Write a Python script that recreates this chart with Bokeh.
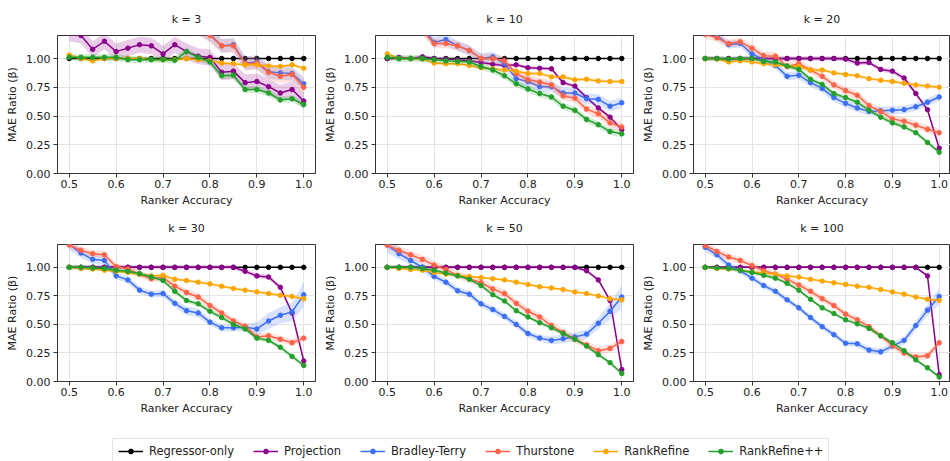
from bokeh.plotting import figure
from bokeh.layouts import column, row
from bokeh.models import Range1d, FixedTicker, NumeralTickFormatter, Legend, LegendItem
from bokeh.embed import file_html
from bokeh.resources import INLINE

FONT = "DejaVu Sans"

# ---------------- data ----------------
acc = [0.5, 0.525, 0.55, 0.575, 0.6, 0.625, 0.65, 0.675, 0.7, 0.725, 0.75,
       0.775, 0.8, 0.825, 0.85, 0.875, 0.9, 0.925, 0.95, 0.975, 1.0]
x_ticks = [0.5, 0.6, 0.7, 0.8, 0.9, 1.0]
y_ticks = [0.0, 0.25, 0.5, 0.75, 1.0]

methods = ["Regressor-only", "Projection", "Bradley-Terry", "Thurstone", "RankRefine", "RankRefine++"]
colors = ["#000000", "#8B008B", "#3b6ff5", "#ff6347", "#ffa500", "#22a02b"]
panel_titles = ["k = 3", "k = 10", "k = 20", "k = 30", "k = 50", "k = 100"]

reg = [1.0, 1.0, 1.0, 1.0, 1.0, 1.0, 1.0, 1.0, 1.0, 1.0, 1.0,
       1.0, 1.0, 1.0, 1.0, 1.0, 1.0, 1.0, 1.0, 1.0, 1.0]

# k = 3
proj3 = [1.22, 1.20, 1.08, 1.15, 1.06, 1.09, 1.12, 1.11, 1.04, 1.12, 1.06, 1.02, 1.01, 0.88, 0.89, 0.79, 0.80, 0.755, 0.70, 0.73, 0.63]
bt3 = [1.52, 1.48, 1.45, 1.46, 1.42, 1.40, 1.38, 1.36, 1.35, 1.33, 1.31, 1.27, 1.21, 1.11, 1.12, 0.96, 0.97, 0.885, 0.875, 0.87, 0.78]
th3 = [1.55, 1.50, 1.46, 1.48, 1.43, 1.41, 1.40, 1.37, 1.36, 1.34, 1.32, 1.26, 1.20, 1.11, 1.11, 0.955, 0.96, 0.88, 0.845, 0.86, 0.75]
rr3 = [1.03, 1.00, 0.98, 1.00, 1.00, 1.00, 1.00, 0.99, 0.99, 0.99, 1.00, 0.99, 0.98, 0.96, 0.955, 0.945, 0.945, 0.935, 0.93, 0.945, 0.915]
rrpp3 = [1.01, 1.01, 1.01, 1.01, 1.01, 0.99, 0.99, 0.99, 0.99, 0.985, 1.06, 1.01, 0.97, 0.85, 0.855, 0.73, 0.73, 0.70, 0.64, 0.65, 0.60]

# k = 10
proj10 = [1.0, 1.01, 1.0, 1.015, 1.0, 0.995, 0.99, 0.98, 0.965, 0.95, 0.94, 0.945, 0.92, 0.915, 0.91, 0.79, 0.76, 0.66, 0.57, 0.49, 0.38]
bt10 = [1.42, 1.38, 1.33, 1.27, 1.14, 1.165, 1.11, 1.07, 1.0, 1.015, 0.955, 0.825, 0.80, 0.755, 0.755, 0.70, 0.70, 0.65, 0.645, 0.585, 0.615]
th10 = [1.36, 1.31, 1.26, 1.24, 1.13, 1.13, 1.11, 1.07, 1.0, 1.0, 0.98, 0.87, 0.815, 0.795, 0.77, 0.675, 0.655, 0.56, 0.52, 0.44, 0.405]
rr10 = [1.04, 1.0, 1.0, 0.995, 0.96, 0.955, 0.955, 0.94, 0.92, 0.91, 0.90, 0.89, 0.87, 0.87, 0.84, 0.84, 0.815, 0.82, 0.805, 0.80, 0.80]
rrpp10 = [1.01, 1.0, 1.0, 1.0, 0.99, 0.98, 0.975, 0.97, 0.93, 0.90, 0.85, 0.78, 0.735, 0.695, 0.665, 0.585, 0.55, 0.47, 0.425, 0.365, 0.345]

# k = 20
proj20 = [1.0, 1.0, 0.995, 1.0, 1.0, 1.0, 1.0, 1.0, 1.0, 1.0, 1.0, 1.0, 0.995, 0.96, 0.965, 0.905, 0.89, 0.83, 0.695, 0.555, 0.22]
bt20 = [1.25, 1.20, 1.12, 1.13, 1.04, 0.99, 0.94, 0.845, 0.855, 0.79, 0.74, 0.66, 0.61, 0.57, 0.54, 0.545, 0.55, 0.555, 0.58, 0.62, 0.665]
th20 = [1.21, 1.18, 1.13, 1.145, 1.09, 1.025, 1.02, 0.93, 0.955, 0.90, 0.845, 0.77, 0.72, 0.68, 0.59, 0.54, 0.475, 0.455, 0.42, 0.385, 0.355]
rr20 = [1.0, 0.995, 0.97, 0.98, 0.97, 0.955, 0.945, 0.935, 0.93, 0.90, 0.90, 0.875, 0.86, 0.85, 0.825, 0.81, 0.80, 0.785, 0.77, 0.76, 0.75]
rrpp20 = [1.0, 1.0, 0.995, 1.0, 1.0, 0.975, 0.97, 0.935, 0.905, 0.82, 0.775, 0.695, 0.66, 0.62, 0.55, 0.49, 0.44, 0.405, 0.355, 0.27, 0.185]

# k = 30
proj30 = [1.0, 1.0, 1.0, 1.0, 1.0, 1.0, 1.0, 1.0, 1.0, 1.0, 1.0, 1.0, 1.0, 1.0, 1.0, 0.965, 0.925, 0.915, 0.825, 0.60, 0.18]
bt30 = [1.2, 1.125, 1.07, 1.06, 0.925, 0.89, 0.80, 0.765, 0.77, 0.685, 0.62, 0.60, 0.52, 0.47, 0.47, 0.475, 0.46, 0.53, 0.58, 0.61, 0.76]
th30 = [1.195, 1.15, 1.12, 1.11, 1.005, 0.985, 0.94, 0.90, 0.91, 0.835, 0.78, 0.74, 0.665, 0.60, 0.53, 0.485, 0.39, 0.40, 0.37, 0.34, 0.38]
rr30 = [1.0, 0.99, 0.985, 0.975, 0.965, 0.955, 0.94, 0.925, 0.93, 0.895, 0.885, 0.87, 0.855, 0.835, 0.815, 0.80, 0.785, 0.77, 0.755, 0.745, 0.725]
rrpp30 = [1.0, 1.0, 0.995, 0.99, 0.975, 0.965, 0.945, 0.915, 0.885, 0.79, 0.71, 0.68, 0.615, 0.56, 0.50, 0.46, 0.38, 0.36, 0.30, 0.22, 0.14]

# k = 50
proj50 = [1.0, 1.0, 1.0, 1.0, 1.0, 1.0, 1.0, 1.0, 1.0, 1.0, 1.0, 1.0, 1.0, 1.0, 1.0, 1.0, 1.0, 0.97, 0.89, 0.71, 0.105]
bt50 = [1.195, 1.12, 1.06, 1.0, 0.92, 0.87, 0.795, 0.765, 0.68, 0.63, 0.57, 0.50, 0.42, 0.38, 0.36, 0.375, 0.39, 0.415, 0.51, 0.615, 0.74]
th50 = [1.195, 1.15, 1.11, 1.07, 1.02, 0.98, 0.93, 0.90, 0.865, 0.81, 0.77, 0.685, 0.615, 0.565, 0.49, 0.43, 0.37, 0.32, 0.27, 0.29, 0.35]
rr50 = [1.0, 0.99, 0.98, 0.975, 0.955, 0.94, 0.93, 0.92, 0.91, 0.90, 0.89, 0.87, 0.85, 0.83, 0.82, 0.805, 0.785, 0.77, 0.75, 0.725, 0.715]
rrpp50 = [1.0, 1.0, 1.0, 0.99, 0.975, 0.95, 0.925, 0.895, 0.84, 0.76, 0.705, 0.62, 0.565, 0.515, 0.47, 0.42, 0.37, 0.31, 0.235, 0.165, 0.07]

# k = 100
proj100 = [1.0, 1.0, 1.0, 1.0, 1.0, 1.0, 1.0, 1.0, 1.0, 1.0, 1.0, 1.0, 1.0, 1.0, 1.0, 1.0, 1.0, 1.0, 1.0, 0.925, 0.06]
bt100 = [1.175, 1.11, 1.02, 0.97, 0.905, 0.84, 0.79, 0.715, 0.645, 0.56, 0.48, 0.41, 0.335, 0.33, 0.275, 0.26, 0.31, 0.36, 0.49, 0.625, 0.745]
th100 = [1.19, 1.14, 1.09, 1.06, 1.015, 0.97, 0.94, 0.895, 0.845, 0.79, 0.725, 0.665, 0.59, 0.54, 0.48, 0.40, 0.315, 0.25, 0.215, 0.225, 0.34]
rr100 = [1.0, 0.99, 0.985, 0.975, 0.96, 0.95, 0.94, 0.925, 0.915, 0.895, 0.88, 0.865, 0.85, 0.835, 0.825, 0.805, 0.785, 0.765, 0.74, 0.72, 0.71]
rrpp100 = [1.0, 0.995, 0.99, 0.975, 0.955, 0.93, 0.905, 0.86, 0.80, 0.72, 0.645, 0.595, 0.54, 0.505, 0.465, 0.40, 0.34, 0.27, 0.19, 0.12, 0.04]

# confidence band half-widths (per method; a number or a per-point list)
bt30_ci = [0.05, 0.04, 0.04, 0.04, 0.03, 0.03, 0.03, 0.03, 0.03, 0.03, 0.04, 0.04, 0.03, 0.03, 0.03, 0.03, 0.06, 0.07, 0.07, 0.08, 0.11]
bt50_ci = [0.07, 0.05, 0.04, 0.04, 0.03, 0.03, 0.03, 0.03, 0.03, 0.03, 0.03, 0.03, 0.03, 0.03, 0.035, 0.04, 0.04, 0.04, 0.05, 0.07, 0.10]
bt100_ci = [0.04, 0.03, 0.03, 0.03, 0.025, 0.025, 0.025, 0.025, 0.025, 0.025, 0.025, 0.025, 0.025, 0.025, 0.03, 0.03, 0.03, 0.035, 0.04, 0.05, 0.07]
ci3 = [0.0, 0.07, 0.06, 0.06, 0.015, 0.03]
ci10 = [0.0, 0.015, 0.045, 0.04, 0.015, 0.03]
ci20 = [0.0, 0.02, 0.035, 0.035, 0.015, 0.02]
ci30 = [0.0, 0.02, bt30_ci, 0.03, 0.012, 0.02]
ci50 = [0.0, 0.015, bt50_ci, 0.035, 0.01, 0.015]
ci100 = [0.0, 0.01, bt100_ci, 0.03, 0.01, 0.015]

panels = [
    [reg, proj3, bt3, th3, rr3, rrpp3],
    [reg, proj10, bt10, th10, rr10, rrpp10],
    [reg, proj20, bt20, th20, rr20, rrpp20],
    [reg, proj30, bt30, th30, rr30, rrpp30],
    [reg, proj50, bt50, th50, rr50, rrpp50],
    [reg, proj100, bt100, th100, rr100, rrpp100],
]
panel_cis = [ci3, ci10, ci20, ci30, ci50, ci100]


def make_panel(title, series, cis, width, x_end, b_left, b_right, height, b_top, b_bottom):
    p = figure(width=width, height=height, x_range=Range1d(0.475, x_end), y_range=Range1d(0, 1.2),
               output_backend="svg", toolbar_location=None,
               min_border_left=b_left, min_border_right=b_right,
               min_border_top=b_top, min_border_bottom=b_bottom)
    p.title.text = title
    p.title.align = "center"
    p.title.text_font = FONT
    p.title.text_font_size = "11px"
    p.title.text_font_style = "normal"
    p.title.text_color = "#222222"
    p.title.standoff = 19

    p.xaxis.ticker = FixedTicker(ticks=x_ticks)
    p.yaxis.ticker = FixedTicker(ticks=y_ticks)
    p.xaxis.formatter = NumeralTickFormatter(format="0.0")
    p.yaxis.formatter = NumeralTickFormatter(format="0.00")
    p.xaxis.axis_label = "Ranker Accuracy"
    p.yaxis.axis_label = "MAE Ratio (β)"
    for ax in (p.xaxis, p.yaxis):
        ax.axis_label_text_font = FONT
        ax.axis_label_text_font_size = "11px"
        ax.axis_label_text_font_style = "normal"
        ax.axis_label_text_color = "#222222"
        ax.major_label_text_font = FONT
        ax.major_label_text_font_size = "11px"
        ax.major_label_text_color = "#222222"
        ax.major_tick_out = 4
        ax.major_tick_in = 0
        ax.major_tick_line_color = "#333333"
        ax.minor_tick_line_color = None
        ax.axis_line_color = "#333333"
    p.xaxis.major_label_standoff = 2
    p.xaxis.axis_label_standoff = 3
    p.yaxis.major_label_standoff = 3
    p.yaxis.axis_label_standoff = 4

    p.xgrid.grid_line_color = "#e4e4e4"
    p.ygrid.grid_line_color = "#e4e4e4"
    p.outline_line_color = "#333333"
    p.outline_line_width = 1
    p.outline_line_alpha = 1.0
    p.background_fill_color = "white"
    p.border_fill_color = "white"

    for ys, ci, col in zip(series, cis, colors):
        if isinstance(ci, list):
            hw = ci
        else:
            hw = [ci] * len(ys)
        if max(hw) > 0:
            lo = [y - h for y, h in zip(ys, hw)]
            hi = [y + h for y, h in zip(ys, hw)]
            p.varea(x=acc, y1=lo, y2=hi, fill_color=col, fill_alpha=0.2)
        p.line(acc, ys, line_color=col, line_width=1.5)
        p.scatter(acc, ys, size=4.5, fill_color=col, line_color=col)
    return p


W = 950
figs = []
for i in range(6):
    r, c = divmod(i, 3)
    if r == 0:
        h, bt, bb = 209, 35, 36
    else:
        h, bt, bb = 208, 35, 35
    if c < 2:
        w, xe, bl, br = 318, 1.025, 57, 3
    else:
        w, xe, bl, br = W - 636, 0.475 + 257 / 468, 57, 0
    figs.append(make_panel(panel_titles[i], panels[i], panel_cis[i], w, xe, bl, br, h, bt, bb))

# legend strip (its renderers hold real series data placed outside the visible range)
lg = figure(width=W, height=44, x_range=Range1d(0, 1), y_range=Range1d(5, 6),
            output_backend="svg", toolbar_location=None,
            x_axis_location=None, y_axis_location=None, min_border=0)
lg.xgrid.visible = False
lg.ygrid.visible = False
lg.outline_line_color = None
items = []
for name, col, ys in zip(methods, colors, panels[0]):
    lr = lg.line(acc, ys, line_color=col, line_width=1.5)
    sr = lg.scatter(acc, ys, size=3.5, fill_color=col, line_color=col)
    items.append(LegendItem(label=name, renderers=[lr, sr]))
legend = Legend(items=items, orientation="horizontal", location=(112, -3),
                glyph_width=25, glyph_height=12, label_height=12, label_standoff=6,
                spacing=19, padding=5, margin=0,
                label_text_font=FONT, label_text_font_size="11.5px", label_text_color="#222222",
                border_line_color="#c8c8c8", border_line_width=1,
                background_fill_color="white", background_fill_alpha=1.0)
lg.add_layout(legend, "center")

layout = column(row(figs[0], figs[1], figs[2]), row(figs[3], figs[4], figs[5]), lg)

open("out.html", "w").write(file_html(layout, INLINE))
